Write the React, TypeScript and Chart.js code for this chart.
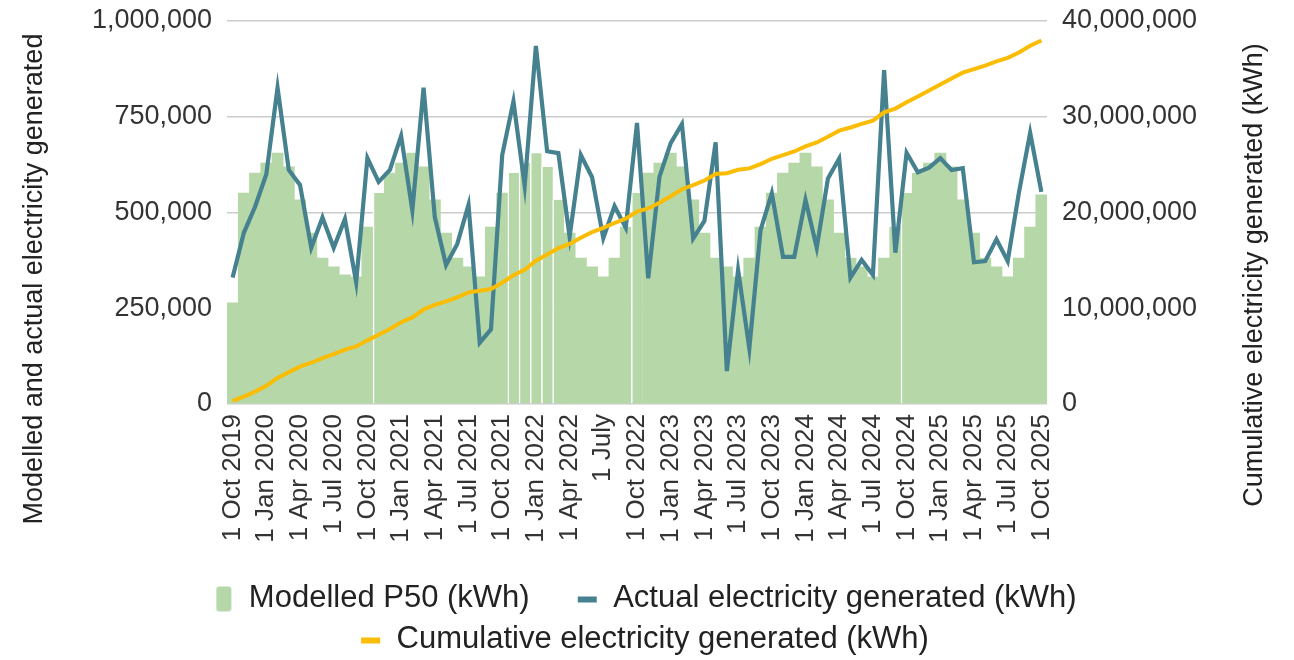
import React, { useEffect, useRef } from 'react';
import { Chart, registerables } from 'chart.js';

Chart.register(...registerables);

const categories = [
  'Oct 2019', 'Nov 2019', 'Dec 2019', 'Jan 2020', 'Feb 2020', 'Mar 2020', 'Apr 2020', 'May 2020', 'Jun 2020', 'Jul 2020', 'Aug 2020', 'Sep 2020',
  'Oct 2020', 'Nov 2020', 'Dec 2020', 'Jan 2021', 'Feb 2021', 'Mar 2021', 'Apr 2021', 'May 2021', 'Jun 2021', 'Jul 2021', 'Aug 2021', 'Sep 2021',
  'Oct 2021', 'Nov 2021', 'Dec 2021', 'Jan 2022', 'Feb 2022', 'Mar 2022', 'Apr 2022', 'May 2022', 'Jun 2022', 'Jul 2022', 'Aug 2022', 'Sep 2022',
  'Oct 2022', 'Nov 2022', 'Dec 2022', 'Jan 2023', 'Feb 2023', 'Mar 2023', 'Apr 2023', 'May 2023', 'Jun 2023', 'Jul 2023', 'Aug 2023', 'Sep 2023',
  'Oct 2023', 'Nov 2023', 'Dec 2023', 'Jan 2024', 'Feb 2024', 'Mar 2024', 'Apr 2024', 'May 2024', 'Jun 2024', 'Jul 2024', 'Aug 2024', 'Sep 2024',
  'Oct 2024', 'Nov 2024', 'Dec 2024', 'Jan 2025', 'Feb 2025', 'Mar 2025', 'Apr 2025', 'May 2025', 'Jun 2025', 'Jul 2025', 'Aug 2025', 'Sep 2025',
  'Oct 2025',
];

const tickLabels = [
  '1 Oct 2019', '1 Jan 2020', '1 Apr 2020', '1 Jul 2020',
  '1 Oct 2020', '1 Jan 2021', '1 Apr 2021', '1 Jul 2021',
  '1 Oct 2021', '1 Jan 2022', '1 Apr 2022', '1 July',
  '1 Oct 2022', '1 Jan 2023', '1 Apr 2023', '1 Jul 2023',
  '1 Oct 2023', '1 Jan 2024', '1 Apr 2024', '1 Jul 2024',
  '1 Oct 2024', '1 Jan 2025', '1 Apr 2025', '1 Jul 2025',
  '1 Oct 2025',
];

const modelledP50 = [
  264000, 551000, 603000, 629000, 655000, 619000, 533000, 446000, 381000, 358000, 337000, 332000, 462000,
  551000, 603000, 629000, 655000, 619000, 533000, 446000, 381000, 358000, 332000, 462000,
  551000, 603000, 629000, 655000, 619000, 533000, 446000, 381000, 358000, 332000, 381000, 462000,
  551000, 603000, 629000, 655000, 619000, 533000, 446000, 381000, 358000, 332000, 381000, 462000,
  551000, 603000, 629000, 655000, 619000, 533000, 446000, 381000, 358000, 332000, 381000, 462000,
  551000, 603000, 629000, 655000, 619000, 533000, 446000, 381000, 358000, 332000, 381000, 462000, 546000,
];

const actualGenerated = [
  330000, 447000, 515000, 600000, 826000, 611000, 572000, 408000, 487000, 408000, 483000, 318000,
  642000, 580000, 611000, 700000, 506000, 826000, 488000, 363000, 418000, 520000, 160000, 195000,
  650000, 790000, 570000, 935000, 660000, 655000, 437000, 650000, 592000, 433000, 517000, 460000,
  734000, 328000, 593000, 681000, 731000, 432000, 478000, 683000, 86000, 350000, 145000, 454000,
  550000, 384000, 384000, 533000, 408000, 589000, 641000, 330000, 376000, 337000, 872000, 395000,
  656000, 605000, 617000, 642000, 611000, 616000, 370000, 373000, 430000, 373000, 552000, 708000, 554000,
];

const cumulativeGenerated = [
  330000, 777000, 1292000, 1892000, 2718000, 3329000, 3901000, 4309000, 4796000, 5204000, 5687000, 6005000,
  6647000, 7227000, 7838000, 8538000, 9044000, 9870000, 10358000, 10721000, 11139000, 11659000, 11819000, 12014000,
  12664000, 13454000, 14024000, 14959000, 15619000, 16274000, 16711000, 17361000, 17953000, 18386000, 18903000, 19363000,
  20097000, 20425000, 21018000, 21699000, 22430000, 22862000, 23340000, 24023000, 24109000, 24459000, 24604000, 25058000,
  25608000, 25992000, 26376000, 26909000, 27317000, 27906000, 28547000, 28877000, 29253000, 29590000, 30462000, 30857000,
  31513000, 32118000, 32735000, 33377000, 33988000, 34604000, 34974000, 35347000, 35777000, 36150000, 36702000, 37410000, 37964000,
];

const leftTitle = 'Modelled and actual electricity generated';
const rightTitle = 'Cumulative electricity generated (kWh)';

// bars that show a thin white seam on their left edge in the reference
const seamBars = [13, 25, 26, 27, 28, 29, 36, 60];

const FONT = "'Liberation Sans', Arial, sans-serif";
const GREEN = '#b6d7a8';
const TEAL = '#45818e';
const YELLOW = '#fbbc04';

function makeMarker(kind: 'box' | 'dash', color: string) {
  const c = document.createElement('canvas');
  c.width = 58;
  c.height = 30;
  const g = c.getContext('2d')!;
  g.fillStyle = color;
  if (kind === 'box') {
    const x = 41, y = 3, w = 15, h = 25, r = 3;
    g.beginPath();
    g.moveTo(x + r, y);
    g.lineTo(x + w - r, y);
    g.quadraticCurveTo(x + w, y, x + w, y + r);
    g.lineTo(x + w, y + h - r);
    g.quadraticCurveTo(x + w, y + h, x + w - r, y + h);
    g.lineTo(x + r, y + h);
    g.quadraticCurveTo(x, y + h, x, y + h - r);
    g.lineTo(x, y + r);
    g.quadraticCurveTo(x, y, x + r, y);
    g.closePath();
    g.fill();
  } else {
    g.fillRect(38, 13, 19, 6);
  }
  return c;
}

const axisTitlePlugin = {
  id: 'axisTitles',
  afterDraw(chart: any) {
    const ctx = chart.ctx;
    ctx.save();
    ctx.font = `27px ${FONT}`;
    ctx.fillStyle = '#222222';
    ctx.textAlign = 'center';
    ctx.textBaseline = 'middle';
    ctx.save();
    ctx.translate(35, 279);
    ctx.rotate(-Math.PI / 2);
    ctx.fillText(leftTitle, 0, 0);
    ctx.restore();
    ctx.save();
    ctx.translate(1255, 275);
    ctx.rotate(-Math.PI / 2);
    ctx.fillText(rightTitle, 0, 0);
    ctx.restore();
    ctx.restore();
  },
};

export default function App() {
  const ref = useRef<HTMLCanvasElement | null>(null);

  useEffect(() => {
    if (!ref.current) return;
    const markers = [makeMarker('box', GREEN), makeMarker('dash', TEAL), makeMarker('dash', YELLOW)];
    const chart = new Chart(ref.current, {
      type: 'bar',
      data: {
        labels: categories,
        datasets: [
          {
            type: 'bar',
            label: 'Modelled P50 (kWh)',
            data: modelledP50,
            backgroundColor: GREEN,
            borderColor: '#ffffff',
            borderWidth: (c: any) => (seamBars.includes(c.dataIndex) ? { left: 1.5, right: 0, top: 0, bottom: 0 } : 0),
            borderSkipped: false,
            barPercentage: 1,
            categoryPercentage: 1,
            yAxisID: 'y',
            order: 3,
          },
          {
            type: 'line',
            label: 'Actual electricity generated (kWh)',
            data: actualGenerated,
            borderColor: TEAL,
            backgroundColor: TEAL,
            borderWidth: 4.2,
            pointRadius: 0,
            tension: 0,
            yAxisID: 'y',
            order: 2,
          },
          {
            type: 'line',
            label: 'Cumulative electricity generated (kWh)',
            data: cumulativeGenerated,
            borderColor: YELLOW,
            backgroundColor: YELLOW,
            borderWidth: 4,
            pointRadius: 0,
            tension: 0,
            yAxisID: 'y1',
            order: 1,
          },
        ] as any,
      },
      options: {
        responsive: true,
        maintainAspectRatio: false,
        animation: false,
        font: { family: FONT },
        layout: { padding: { top: 21, right: 42, bottom: -5, left: 0 } },
        plugins: {
          legend: {
            position: 'bottom',
            labels: {
              usePointStyle: true,
              pointStyleWidth: 58,
              padding: 10,
              color: '#222222',
              font: { size: 31, family: FONT },
              sort: (a: any, b: any) => a.datasetIndex - b.datasetIndex,
              generateLabels: (ch: any) => {
                const items = (Chart as any).defaults.plugins.legend.labels.generateLabels(ch);
                return items.map((it: any) => ({ ...it, pointStyle: markers[it.datasetIndex] }));
              },
            },
          },
          tooltip: { enabled: false },
        },
        scales: {
          x: {
            type: 'category',
            offset: true,
            grid: { display: false, drawTicks: false },
            border: { display: false },
            ticks: {
              autoSkip: false,
              maxRotation: 90,
              minRotation: 90,
              padding: 10,
              color: '#333333',
              font: { size: 26, family: FONT },
              callback: (_v: any, i: number) => (i % 3 === 0 ? tickLabels[i / 3] : ''),
            },
            afterFit: (s: any) => {
              s.height = 169;
            },
          },
          y: {
            position: 'left',
            min: 0,
            max: 1000000,
            grid: { color: '#cccccc', lineWidth: 1.5, drawTicks: false },
            border: { display: false },
            ticks: {
              stepSize: 250000,
              padding: 15,
              color: '#333333',
              font: { size: 27, family: FONT },
              callback: (v: any) => Number(v).toLocaleString('en-US'),
            },
            afterFit: (s: any) => {
              s.width = 227;
              s.paddingTop = 0;
              s.paddingBottom = 0;
            },
          },
          y1: {
            position: 'right',
            min: 0,
            max: 40000000,
            grid: { display: false, drawTicks: false },
            border: { display: false },
            ticks: {
              stepSize: 10000000,
              padding: 15,
              color: '#333333',
              font: { size: 27, family: FONT },
              callback: (v: any) => Number(v).toLocaleString('en-US'),
            },
            afterFit: (s: any) => {
              s.width = 205;
              s.paddingTop = 0;
              s.paddingBottom = 0;
            },
          },
        },
      } as any,
      plugins: [axisTitlePlugin],
    });
    return () => chart.destroy();
  }, []);

  return (
    <div style={{ position: 'fixed', left: 0, top: 0, width: '1294px', height: '660px', background: '#ffffff' }}>
      <canvas ref={ref} />
    </div>
  );
}
